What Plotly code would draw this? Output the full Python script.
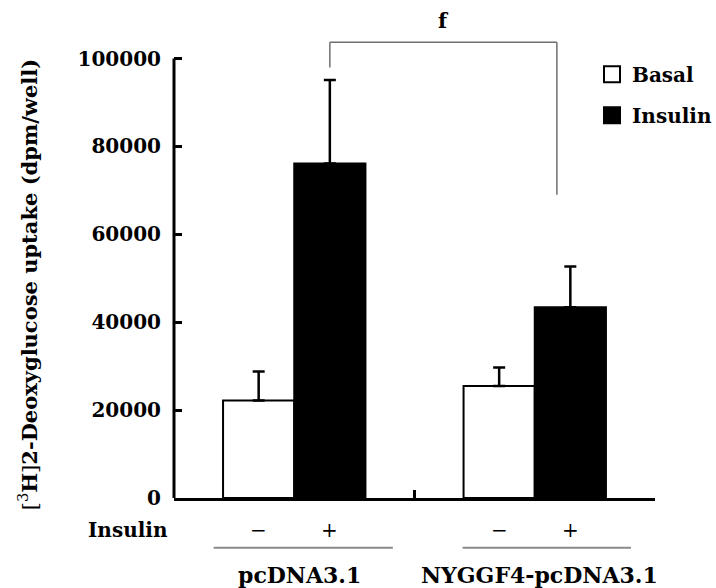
import plotly.graph_objects as go

# ---- data ----
groups = ["pcDNA3.1", "NYGGF4-pcDNA3.1"]
basal = [22200, 25500]
basal_err = [6600, 4200]
insulin = [76100, 43400]
insulin_err = [19000, 9300]
ytick_vals = [0, 20000, 40000, 60000, 80000, 100000]
ytick_text = ["0", "20000", "40000", "60000", "80000", "100000"]
signs_basal = "−"
signs_insulin = "+"
sig_label = "f"
# significance bracket (data units): left leg bottom, right leg bottom, top
bracket_left_x, bracket_right_x = 0.148, 1.092
bracket_left_y0, bracket_right_y0, bracket_top = 97950, 69000, 103700

FONT = "DejaVu Serif"
BARGAP = 0.408
off = (1 - BARGAP) / 4  # center offset of each bar within a group

fig = go.Figure()
fig.add_trace(go.Bar(
    x=groups, y=basal, name="Basal", showlegend=False,
    marker=dict(color="white", line=dict(color="black", width=2)),
    error_y=dict(type="data", array=basal_err, arrayminus=[0] * len(basal),
                 symmetric=False, thickness=2.5, width=6, color="black"),
))
fig.add_trace(go.Bar(
    x=groups, y=insulin, name="Insulin", showlegend=False,
    marker=dict(color="black", line=dict(color="black", width=2)),
    error_y=dict(type="data", array=insulin_err, arrayminus=[0] * len(insulin),
                 symmetric=False, thickness=2.5, width=6, color="black"),
))
# legend-only entries with larger square symbols
for nm, col in [("Basal", "white"), ("Insulin", "black")]:
    fig.add_trace(go.Scatter(
        x=[None], y=[None], mode="markers", name=nm, legendgroup=nm,
        marker=dict(symbol="square", size=16, color=col,
                    line=dict(color="black", width=2)),
    ))

shapes = []
# y axis line (0 .. 100000)
shapes.append(dict(type="line", xref="paper", x0=0, x1=0, yref="y",
                   y0=0, y1=ytick_vals[-1], line=dict(color="black", width=3)))
# significance bracket
for (x0, y0, x1, y1) in [
    (bracket_left_x, bracket_left_y0, bracket_left_x, bracket_top),
    (bracket_left_x, bracket_top, bracket_right_x, bracket_top),
    (bracket_right_x, bracket_top, bracket_right_x, bracket_right_y0),
]:
    shapes.append(dict(type="line", xref="x", yref="y", x0=x0, y0=y0, x1=x1, y1=y1,
                       line=dict(color="#6f6f6f", width=1.5)))
# group underlines
for (x0, x1) in [(-0.335, 0.41), (0.70, 1.40)]:
    shapes.append(dict(type="line", xref="x", yref="paper", x0=x0, x1=x1,
                       y0=-0.109, y1=-0.109, line=dict(color="#8a8a8a", width=2)))

ann = []


def add_text(**kw):
    kw.setdefault("xanchor", "center")
    kw.setdefault("yanchor", "middle")
    kw.setdefault("showarrow", False)
    ann.append(kw)


add_text(xref="paper", yref="paper", x=-0.303, y=0.466, textangle=-90,
         text="[<sup>3</sup><b>H</b>]<b>2-Deoxyglucose uptake (dpm/well)</b>",
         font=dict(family=FONT, size=21, color="black"))
add_text(xref="paper", yref="paper", x=-0.0956, y=-0.070, text="<b>Insulin</b>",
         font=dict(family=FONT, size=20, color="black"))
for i, g in enumerate(groups):
    add_text(xref="x", yref="paper", x=i - off, y=-0.070, text=signs_basal,
             font=dict(family=FONT, size=20, color="black"))
    add_text(xref="x", yref="paper", x=i + off, y=-0.070, text=signs_insulin,
             font=dict(family=FONT, size=20, color="black"))
    add_text(xref="x", yref="paper", x=i + 0.02, y=-0.168, text="<b>%s</b>" % g,
             font=dict(family=FONT, size=22, color="black"))
add_text(xref="x", yref="paper", x=(bracket_left_x + bracket_right_x) / 2, y=1,
         yanchor="bottom", yshift=6, text="<b>%s</b>" % sig_label,
         font=dict(family=FONT, size=21, color="black"))

fig.update_layout(
    width=716, height=588,
    margin=dict(l=174, r=61, t=41, b=90, autoexpand=False),
    paper_bgcolor="white", plot_bgcolor="white",
    barmode="group", bargap=BARGAP, bargroupgap=0,
    font=dict(family=FONT, size=20, color="black"),
    xaxis=dict(type="category", categoryorder="array", categoryarray=groups,
               range=[-0.5, 1.5], tickson="boundaries", ticks="inside",
               ticklen=8, tickwidth=3, tickcolor="black", showticklabels=False,
               showline=True, linewidth=3, linecolor="black", showgrid=False,
               zeroline=False),
    yaxis=dict(range=[0, 104000], tickvals=ytick_vals, ticktext=ytick_text,
               ticks="inside", ticklen=8, tickwidth=3, tickcolor="black",
               tickfont=dict(family=FONT, size=20, color="black", weight="bold"),
               ticklabelstandoff=12, showline=False, showgrid=False, zeroline=False),
    legend=dict(x=0.869, y=0.97, xanchor="left", yanchor="top",
                bgcolor="rgba(0,0,0,0)", tracegroupgap=12,
                font=dict(family=FONT, size=20, color="black", weight="bold")),
    shapes=shapes, annotations=ann,
)

fig.write_html("out.html", config={"displayModeBar": False},
               post_script="document.body.style.margin='0';")
